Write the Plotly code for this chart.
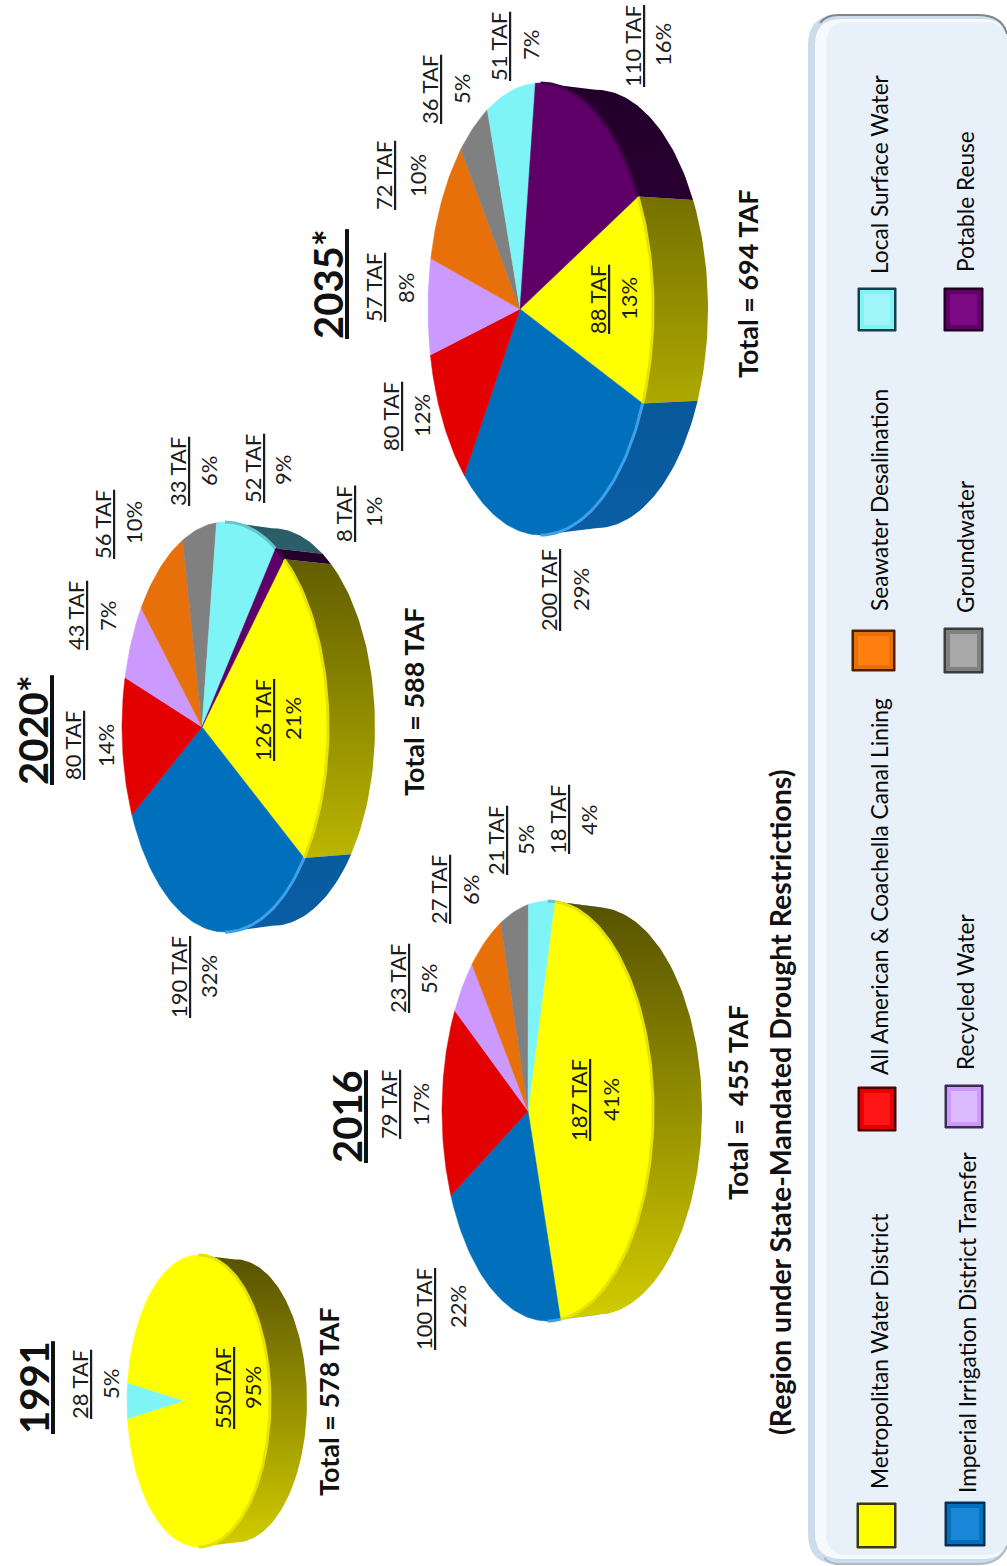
import math
import plotly.graph_objects as go

# ---------- data ----------
CATEGORIES = ["Metropolitan Water District", "Imperial Irrigation District Transfer",
              "All American & Coachella Canal Lining", "Recycled Water",
              "Seawater Desalination", "Groundwater", "Local Surface Water", "Potable Reuse"]
YEARS = ["1991", "2016", "2020*", "2035*"]
TOTAL_LABELS = ["Total = 578 TAF", "Total =  455 TAF", "Total = 588 TAF", "Total = 694 TAF"]
VALUES_1991 = [550, 0, 0, 0, 0, 0, 28, 0]
VALUES_2016 = [187, 100, 79, 23, 27, 21, 18, 0]
VALUES_2020 = [126, 190, 80, 43, 56, 33, 52, 8]
VALUES_2035 = [88, 200, 80, 57, 72, 36, 51, 110]
PERCENT_1991 = [95, 0, 0, 0, 0, 0, 5, 0]
PERCENT_2016 = [41, 22, 17, 5, 6, 5, 4, 0]
PERCENT_2020 = [21, 32, 14, 7, 10, 6, 9, 1]
PERCENT_2035 = [13, 29, 12, 8, 10, 5, 7, 16]

# ---------- style ----------
COLORS = ["#ffff00", "#0070bd", "#e30000", "#cc99ff", "#e8700a", "#808080", "#7ff4f6", "#5f0068"]
WALL_TOP = ["#565200", "#004c84", "#700000", "#664c80", "#743805", "#404040", "#2a5c66", "#22002a"]
WALL_BOTTOM = ["#d2cc00", "#0a5ea4", "#a00000", "#8f6bb3", "#a34f07", "#5a5a5a", "#3f8890", "#3a0040"]
RIM = ["#e6e200", "#3f9fe8", "#b00000", "#a37acc", "#b85808", "#666666", "#66c4cc", "#40004a"]
FONT = "Lato"

# geometry: apex x, centre y, left x, right x, half height, depth, start angle
GEOM = [dict(ax=183, cy=1401, xl=127, xr=270, ry=146, d=37, start=188.7),
        dict(ax=528, cy=1111, xl=442, xr=653, ry=210, d=49, start=-75.5),
        dict(ax=202, cy=727, xl=122, xr=328, ry=205, d=47, start=-45.0),
        dict(ax=520, cy=309, xl=428, xr=653, ry=226, d=55, start=-25.0)]
ALL_VALUES = [VALUES_1991, VALUES_2016, VALUES_2020, VALUES_2035]
ALL_PERCENT = [PERCENT_1991, PERCENT_2016, PERCENT_2020, PERCENT_2035]

# label centres per pie: category index -> (x of value line, y, x of percent line, y)
LABEL_POS = [
    {6: (79, 1385, 110, 1384), 0: (222, 1388, 252, 1388)},
    {0: (578, 1100, 610, 1100), 1: (423, 1309, 457, 1307), 2: (388, 1105, 420, 1105),
     3: (397, 979, 428, 979), 4: (438, 890, 470, 890), 5: (495, 841, 525, 840), 6: (557, 820, 588, 820)},
    {0: (262, 720, 292, 719), 1: (178, 977, 208, 977), 2: (72, 746, 105, 746), 3: (75, 616, 107, 616),
     4: (102, 525, 133, 523), 5: (177, 472, 208, 471), 6: (252, 469, 282, 470), 7: (343, 514, 373, 512)},
    {0: (597, 300, 628, 299), 1: (548, 590, 580, 590), 2: (390, 417, 421, 416), 3: (373, 288, 405, 288),
     4: (383, 176, 417, 176), 5: (429, 90, 461, 89), 6: (498, 47, 530, 45), 7: (632, 46, 662, 45)},
]
TITLE_POS = [(34, 1388), (347, 1117), (33, 730), (328, 284)]
TOTAL_POS = [(328, 1402), (737, 1103), (413, 702), (747, 284)]

# legend: swatch box (x0, y0, x1, y1) and text centre per category
SWATCH = [(857, 1503, 896, 1548), (945, 1502, 985, 1546), (858, 1087, 896, 1131), (945, 1085, 983, 1128),
          (852, 630, 895, 671), (944, 628, 983, 673), (858, 288, 896, 331), (944, 288, 983, 331)]
LEGEND_TEXT = [(879, 1352), (967, 1322), (879, 887), (965, 992), (879, 500), (965, 547), (879, 174), (965, 202)]
SW_DARK = ["#3a3a00", "#0a2f55", "#500000", "#3c2c50", "#4a2200", "#3c3c3c", "#124048", "#20001f"]
SW_LIGHT = ["#ffff00", "#1a86d8", "#ff1515", "#dcbcff", "#ff7f10", "#a8a8a8", "#9ff5f7", "#7d0a85"]


def projector(g):
    k = (2 * g["ax"] - g["xl"] - g["xr"]) / (g["xr"] - g["xl"])
    a = (g["xr"] - g["ax"]) * (1 + k)
    c = g["ry"] * math.sqrt(1 - k * k)

    def point(deg, depth=0.0):
        t = math.radians(deg)
        u, v = math.cos(t), math.sin(t)
        w = 1 + k * u
        scale = 0.97 if depth else 1.0
        return g["ax"] + a * u / w + depth, g["cy"] + scale * c * v / w
    return point, math.degrees(math.acos(min(1, max(-1, -k))))


def frange(a, b, step=1.5):
    n = max(2, int(abs(b - a) / step) + 2)
    return [a + (b - a) * i / (n - 1) for i in range(n)]


fig = go.Figure()
for g, values, year in zip(GEOM, ALL_VALUES, YEARS):
    point, vis = projector(g)
    total = sum(values)
    angle = g["start"]
    slices = []
    for i, v in enumerate(values):
        if v == 0:
            continue
        span = 360.0 * v / total
        slices.append((i, v, angle, angle + span))
        angle += span
    ytop, ybot = g["cy"] - g["ry"], g["cy"] + g["ry"]
    # side walls
    for i, v, a0, a1 in slices:
        for shift in (0, 360, -360):
            lo, hi = max(a0 + shift, -vis), min(a1 + shift, vis)
            if hi <= lo:
                continue
            arc = frange(lo, hi)
            top = [point(t) for t in arc]
            low = [point(t, g["d"]) for t in reversed(arc)]
            pts = top + low + top[:1]
            fig.add_trace(go.Scatter(
                x=[p[0] for p in pts], y=[p[1] for p in pts], mode="lines", fill="toself",
                line=dict(width=0), hoverinfo="skip", showlegend=False,
                fillgradient=dict(type="vertical", start=ytop, stop=ybot,
                                  colorscale=[[0, WALL_TOP[i]], [1, WALL_BOTTOM[i]]])))
    # top faces
    for i, v, a0, a1 in slices:
        pts = [(g["ax"], g["cy"])] + [point(t) for t in frange(a0, a1)] + [(g["ax"], g["cy"])]
        fig.add_trace(go.Scatter(
            x=[p[0] for p in pts], y=[p[1] for p in pts], mode="lines", fill="toself",
            fillcolor=COLORS[i], line=dict(color=COLORS[i], width=0.5),
            name=CATEGORIES[i], text=f"{year}: {v} TAF", hoverinfo="text", showlegend=False))
    # soft rim where the top face meets the wall
    for i, v, a0, a1 in slices:
        for shift in (0, 360, -360):
            lo, hi = max(a0 + shift, -vis), min(a1 + shift, vis)
            if hi <= lo:
                continue
            pts = [point(t) for t in frange(lo, hi)]
            fig.add_trace(go.Scatter(
                x=[p[0] for p in pts], y=[p[1] for p in pts], mode="lines",
                line=dict(color=RIM[i], width=3), hoverinfo="skip", showlegend=False))

annotations = []


def label(x, y, text, size, bold=False, under=False, color="#1c1c1c"):
    font = dict(family=FONT, size=size, color=color, weight=700 if bold else 400)
    if under:
        font["lineposition"] = "under"
    annotations.append(dict(x=x, y=y, xref="x", yref="y", text=text, textangle=-90, showarrow=False,
                            xanchor="center", yanchor="middle", font=font))


for values, percents, pos in zip(ALL_VALUES, ALL_PERCENT, LABEL_POS):
    for i, (xa, ya, xb, yb) in pos.items():
        label(xa, ya, f"{values[i]} TAF", 22, under=True)
        label(xb, yb, f"{percents[i]}%", 22)

for year, (x, y) in zip(YEARS, TITLE_POS):
    label(x, y, year, 40, bold=True, under=True, color="#111111")
for text, (x, y) in zip(TOTAL_LABELS, TOTAL_POS):
    label(x, y, text, 27, bold=True, color="#111111")
label(780, 1102, "(Region under State-Mandated Drought Restrictions)", 28.5, bold=True, color="#111111")
for cat, (x, y) in zip(CATEGORIES, LEGEND_TEXT):
    label(x, y, cat, 22.7, color="#0a0a0a")


def rounded(x0, y0, x1, y1, r):
    return (f"M {x0+r} {y0} L {x1-r} {y0} Q {x1} {y0} {x1} {y0+r} L {x1} {y1-r} Q {x1} {y1} {x1-r} {y1} "
            f"L {x0+r} {y1} Q {x0} {y1} {x0} {y1-r} L {x0} {y0+r} Q {x0} {y0} {x0+r} {y0} Z")


shapes = [
    dict(type="path", path=rounded(808, 15, 1008, 1564, 30), fillcolor="#cddcea",
         line=dict(width=0), layer="below"),
    dict(type="path", path=rounded(815, 19, 1008, 1559, 26), fillcolor="#f6f9fd",
         line=dict(width=0), layer="below"),
    dict(type="path", path=rounded(826, 22, 1008, 1555, 22), fillcolor="#e8f0fa",
         line=dict(width=0), layer="below"),
    # dark bevel along the top edge, lighter along the bottom edge
    dict(type="path", path="M 820 23 Q 826 15 838 15 L 978 15 Q 1002 15 1007 34",
         line=dict(color="#7f878d", width=2), layer="below"),
    dict(type="path", path="M 824 1558 Q 830 1564 838 1564 L 978 1564 Q 1000 1564 1007 1546",
         line=dict(color="#aeb9c4", width=2), layer="below"),
]
for (x0, y0, x1, y1), dark, light, base in zip(SWATCH, SW_DARK, SW_LIGHT, COLORS):
    shapes.append(dict(type="rect", x0=x0, y0=y0, x1=x1, y1=y1, fillcolor=dark,
                       line=dict(color=dark, width=1), layer="below"))
    shapes.append(dict(type="rect", x0=x0 + 2, y0=y0 + 2, x1=x1 - 2, y1=y1 - 2, fillcolor=base,
                       line=dict(width=0), layer="below"))
    shapes.append(dict(type="rect", x0=x0 + 6, y0=y0 + 6, x1=x1 - 6, y1=y1 - 6, fillcolor=light,
                       line=dict(width=0), layer="below"))

fig.update_layout(
    width=1007, height=1566, margin=dict(l=0, r=0, t=0, b=0),
    paper_bgcolor="white", plot_bgcolor="white", showlegend=False,
    xaxis=dict(range=[0, 1007], visible=False, fixedrange=True),
    yaxis=dict(range=[1566, 0], visible=False, fixedrange=True),
    annotations=annotations, shapes=shapes, font=dict(family=FONT),
)
fig.write_html("out.html", config=dict(displayModeBar=False),
               post_script="document.body.style.margin='0';document.body.style.overflow='hidden';")
